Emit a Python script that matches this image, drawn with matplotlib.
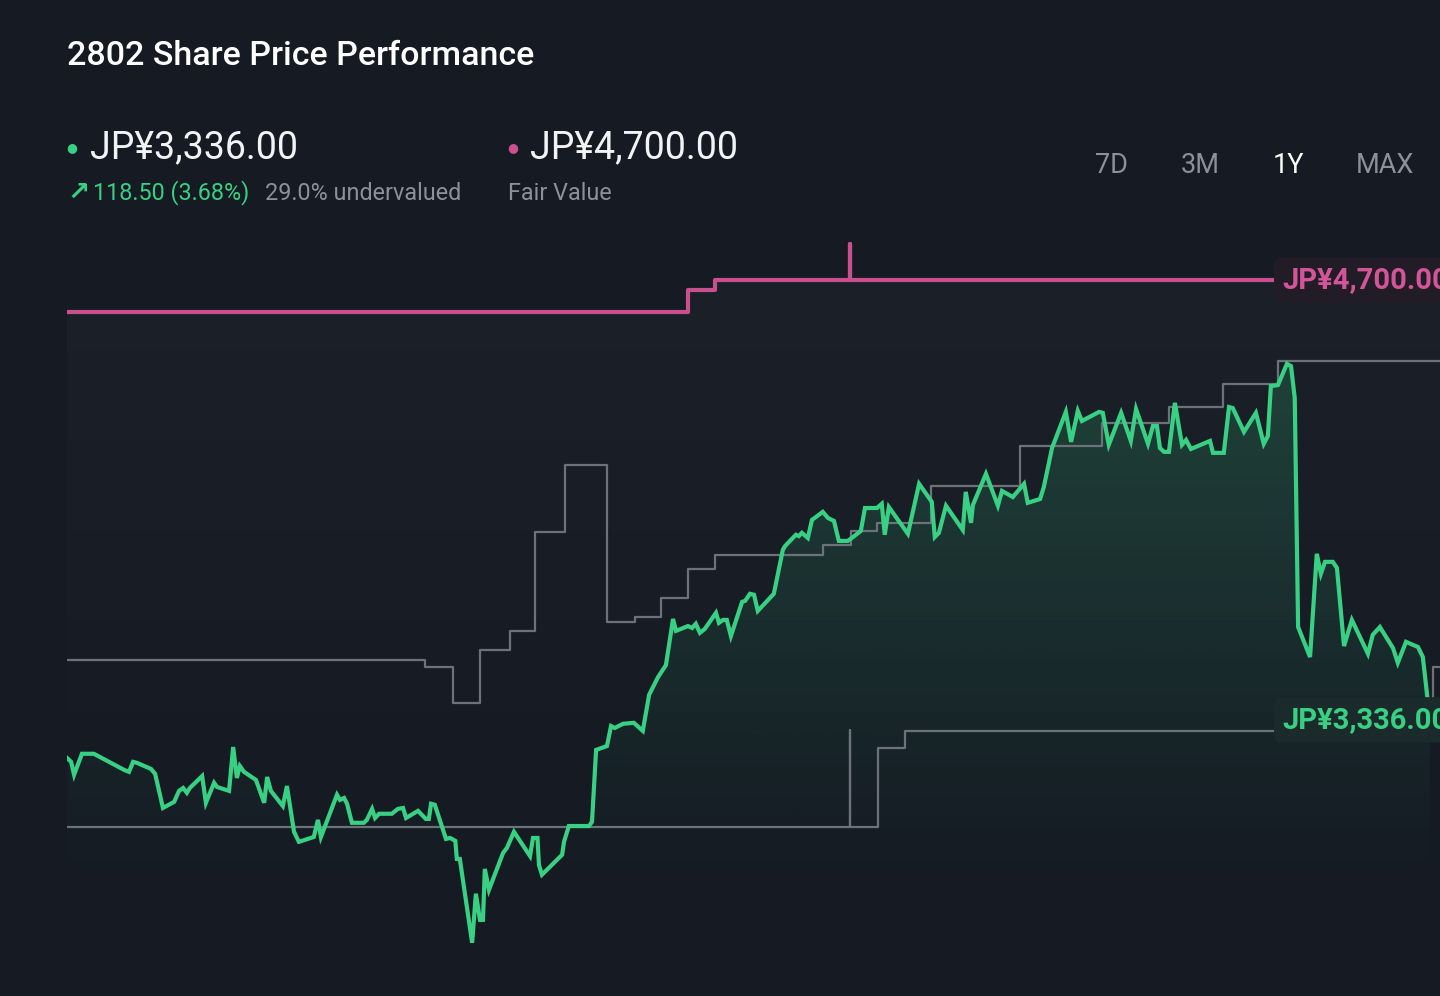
import numpy as np
import matplotlib
matplotlib.use("Agg")
from matplotlib import pyplot as plt

plt.rcParams['font.family'] = ['Roboto', 'DejaVu Sans']

# share price, day number inside the 1Y window
price_day = [0, 1.1, 1.9, 4.0, 7.2, 15.3, 16.6, 17.7, 18.7, 22.5,
             23.6, 25.7, 28.7, 30.0, 31.1, 32.1, 32.9, 36.2, 37.2, 39.4,
             40.2, 43.4, 44.5, 45.5, 46.3, 47.4, 50.6, 52.8, 53.6, 54.6,
             57.8, 58.9, 60.8, 62.1, 66.1, 67.2, 68.0, 72.3, 73.1, 74.2,
             75.0, 76.3, 79.5, 80.3, 81.7, 82.5, 83.6, 87.0, 88.6, 90.0,
             90.8, 94.0, 96.1, 96.9, 97.5, 98.5, 101.5, 102.6, 104.0, 104.4,
             105.2, 108.5, 109.5, 110.6, 111.4, 111.9, 113.0, 116.8, 117.8, 119.7,
             124.0, 124.8, 126.0, 126.4, 127.2, 132.6, 133.1, 134.4, 139.8, 140.6,
             141.7, 144.6, 145.7, 146.7, 148.9, 151.8, 154.2, 155.9, 158.3, 160.4,
             162.3, 163.1, 166.3, 167.4, 168.4, 169.5, 170.8, 173.8, 174.6, 175.7,
             176.7, 177.8, 180.8, 181.6, 182.9, 184.0, 185.0, 188.5, 189.3, 191.7,
             192.3, 195.2, 196.0, 196.8, 198.4, 199.5, 202.4, 203.8, 205.4, 206.7,
             209.1, 210.5, 212.6, 213.7, 216.9, 218.2, 219.0, 220.1, 225.2, 228.2,
             231.6, 232.4, 233.5, 235.4, 239.9, 240.7, 242.1, 242.6, 246.1, 249.3,
             250.4, 253.3, 256.3, 257.3, 260.6, 261.6, 263.8, 267.5, 268.9, 270.7,
             271.8, 276.4, 277.4, 279.0, 282.3, 284.9, 286.3, 289.5, 290.8, 291.9,
             292.7, 293.8, 295.1, 296.7, 298.6, 299.7, 301.0, 306.1, 306.9, 309.8,
             311.2, 312.2, 315.2, 318.4, 320.5, 321.6, 322.4, 324.3, 326.7, 327.8,
             328.8, 329.7, 332.9, 334.7, 335.8, 336.9, 339.0, 340.1, 342.0, 344.1,
             348.4, 349.7, 351.6, 355.1, 356.4, 358.6, 361.8, 363.1, 365.0]
price = [3218, 3206, 3166, 3231, 3231, 3181, 3175, 3206, 3203, 3184,
         3169, 3063, 3082, 3116, 3125, 3110, 3125, 3162, 3079, 3141,
         3128, 3116, 3252, 3156, 3193, 3175, 3150, 3079, 3159, 3116,
         3069, 3131, 2989, 2958, 2973, 3026, 2973, 3104, 3088, 3094,
         3076, 3017, 3017, 3026, 3060, 3032, 3045, 3045, 3060, 3063,
         3032, 3054, 3029, 3029, 3076, 3073, 2967, 2970, 2961, 2905,
         2905, 2645, 2797, 2716, 2716, 2874, 2809, 2924, 2939, 2989,
         2914, 2970, 2970, 2886, 2856, 2918, 2958, 3007, 3007, 3020,
         3243, 3255, 3317, 3311, 3324, 3327, 3302, 3414, 3469, 3506,
         3649, 3612, 3627, 3621, 3634, 3606, 3618, 3668, 3637, 3646,
         3646, 3596, 3702, 3705, 3727, 3724, 3674, 3717, 3727, 3863,
         3875, 3910, 3906, 3916, 3900, 3956, 3981, 3962, 3953, 3891,
         3891, 3903, 3922, 3993, 3993, 4006, 3910, 3996, 3913, 4068,
         4012, 3903, 3916, 4000, 3925, 4043, 3947, 4002, 4099, 4000,
         4046, 4027, 4068, 4009, 4021, 4058, 4179, 4291, 4198, 4294,
         4263, 4291, 4288, 4189, 4288, 4201, 4300, 4192, 4247, 4247,
         4179, 4167, 4167, 4319, 4189, 4204, 4176, 4201, 4164, 4164,
         4306, 4303, 4229, 4288, 4192, 4216, 4371, 4374, 4440, 4433,
         4334, 3624, 3531, 3851, 3789, 3826, 3826, 3807, 3565, 3646,
         3541, 3600, 3624, 3559, 3513, 3578, 3562, 3531, 3336]

# upper grey step line
upper_day = [0, 95.9, 103.4, 110.6, 118.6, 125.3, 133.4, 144.6, 152.1, 159.1, 166.3,
             173.5, 202.4, 209.9, 216.9, 231.4, 255.2, 277.2, 295.1, 309.6, 324.3, 367.7]
upper_val = [3522, 3500, 3389, 3553, 3612, 3919, 4126, 3640, 3655, 3714, 3804,
             3848, 3878, 3922, 3947, 4061, 4185, 4257, 4306, 4378, 4449, 4449]

# lower grey step line
lower_day = [0, 209.7, 209.7, 217.2, 224.4, 365.8, 367.7]
lower_val = [3004, 3305, 3004, 3249, 3302, 3500, 3500]

# fair value step line
fv_day = [0, 166.3, 173.5, 209.7, 209.7, 367.7]
fv_val = [4600, 4670, 4700, 4810, 4700, 4700]

current_price = 3336.00
fair_value = 4700.00

bg = '#151a23'
green = '#38d183'
pink = '#c8508e'
grey_line = '#6c717a'
grey_text = '#8b9099'

fig = plt.figure(figsize=(14.4, 9.96), dpi=100, facecolor=bg)
ax = fig.add_axes([67 / 1440, 0, 1 - 67 / 1440, 1])
ax.set_facecolor(bg)
ax.set_xlim(0, 367.7)
ax.set_ylim(2480, 5568)
ax.axis('off')

# faint fill below fair value
fv_poly = ax.fill_between(fv_day, fv_val, 2480, step='post', facecolor='none', edgecolor='none')
grad = np.zeros((256, 1, 4))
grad[:, 0, :3] = 1.0
grad[:, 0, 3] = np.linspace(0.0, 0.028, 256)
im = ax.imshow(grad, extent=[0, 367.7, 2800, 4810], origin='lower', aspect='auto', zorder=1)
im.set_clip_path(fv_poly.get_paths()[0], transform=ax.transData)

# green gradient fill under the price
pr_poly = ax.fill_between(price_day, price, 2480, facecolor='none', edgecolor='none')
grad2 = np.zeros((256, 1, 4))
grad2[:, 0, :3] = matplotlib.colors.to_rgb(green)
grad2[:, 0, 3] = np.linspace(0.0, 0.2, 256)
im2 = ax.imshow(grad2, extent=[0, 367.7, 2810, 4450], origin='lower', aspect='auto', zorder=2)
im2.set_clip_path(pr_poly.get_paths()[0], transform=ax.transData)

ax.plot(upper_day, upper_val, drawstyle='steps-post', color=grey_line, lw=1.6, zorder=3)
ax.plot(lower_day, lower_val, drawstyle='steps-post', color=grey_line, lw=1.6, zorder=3)
ax.plot(fv_day, fv_val, drawstyle='steps-post', color=pink, lw=3, zorder=4)
ax.plot(price_day, price, color=green, lw=3, zorder=5, solid_joinstyle='miter')

# value tags on the right edge
ax.text(325.6, fair_value, f'JP¥{fair_value:,.2f}', color='#d2559a', fontsize=21,
        fontweight='bold', va='center', ha='left', zorder=10, clip_on=False,
        bbox=dict(boxstyle='round,pad=0.3,rounding_size=0.3', fc='#221c27', ec='none'))
ax.text(325.6, current_price, f'JP¥{current_price:,.2f}', color=green, fontsize=21,
        fontweight='bold', va='center', ha='left', zorder=10, clip_on=False,
        bbox=dict(boxstyle='round,pad=0.3,rounding_size=0.3', fc='#1b2a2b', ec='none'))

# header
H = 996
W = 1440
fig.text(67 / W, 1 - 56 / H, '2802 Share Price Performance', color='#ffffff', fontsize=24.5,
         fontweight='medium', va='center', ha='left')

fig.text(72 / W, 1 - 148 / H, '●', color=green, fontsize=9, va='center', ha='center')
fig.text(90 / W, 1 - 148 / H, f'JP¥{current_price:,.2f}', color='#f2f3f5', fontsize=27,
         va='center', ha='left')
fig.text(513 / W, 1 - 148 / H, '●', color=pink, fontsize=9, va='center', ha='center')
fig.text(530 / W, 1 - 148 / H, f'JP¥{fair_value:,.2f}', color='#f2f3f5', fontsize=27,
         va='center', ha='left')

fig.text(67 / W, 1 - 193 / H, '↗', color=green, fontsize=19, fontweight='bold',
         family='DejaVu Sans', va='center', ha='left')
fig.text(93 / W, 1 - 193 / H, '118.50 (3.68%)', color=green, fontsize=16.8,
         va='center', ha='left')
fig.text(265 / W, 1 - 193 / H, '29.0% undervalued', color=grey_text, fontsize=16.8,
         va='center', ha='left')
fig.text(508 / W, 1 - 193 / H, 'Fair Value', color=grey_text, fontsize=16.8,
         va='center', ha='left')

periods = ['7D', '3M', '1Y', 'MAX']
period_x = [1112, 1200, 1288, 1385]
for label, px in zip(periods, period_x):
    fig.text(px / W, 1 - 165 / H, label, color='#ffffff' if label == '1Y' else grey_text,
             fontsize=19.5, va='center', ha='center')

plt.savefig('out.png', dpi=100, facecolor=bg)
